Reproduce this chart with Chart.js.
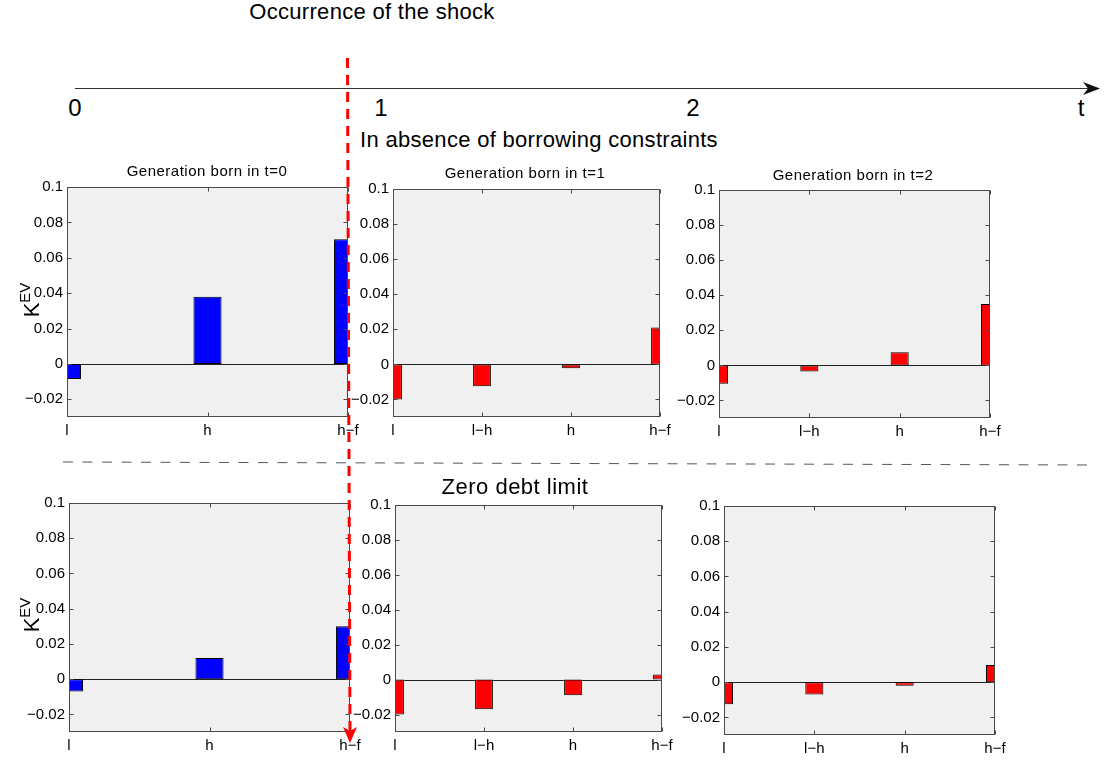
<!DOCTYPE html>
<html>
<head>
<meta charset="utf-8">
<script src="https://cdn.jsdelivr.net/npm/chart.js@4/dist/chart.umd.min.js"></script>
<style>
  html, body { margin: 0; padding: 0; background: #fff; }
  body { width: 1108px; height: 760px; position: relative; overflow: hidden;
         font-family: "Liberation Sans", Arial, Helvetica, sans-serif; color: #000; }
  .panel { position: absolute; }
  .txt { position: absolute; transform: translate(-50%, -50%); white-space: nowrap; line-height: 1; }
  .ylab { position: absolute; transform: translate(-50%, -50%) rotate(-90deg); white-space: nowrap;
          font-size: 22px; line-height: 1; }
  .ylab sup { font-size: 15px; vertical-align: 0; position: relative; top: -9px; }
  svg.overlay { position: absolute; left: 0; top: 0; z-index: 5; pointer-events: none; }
</style>
</head>
<body>
<script>
// ---------------- data ----------------
const categoriesT0 = ['l', 'h', 'h\u2212f'];
const categoriesT12 = ['l', 'l\u2212h', 'h', 'h\u2212f'];

// In absence of borrowing constraints
const genT0NoConstraint = [-0.0085, 0.038, 0.0705];
const genT1NoConstraint = [-0.020, -0.0125, -0.0022, 0.021];
const genT2NoConstraint = [-0.0105, -0.0035, 0.0075, 0.035];

// Zero debt limit
const genT0ZeroDebt = [-0.007, 0.012, 0.030];
const genT1ZeroDebt = [-0.020, -0.017, -0.009, 0.003];
const genT2ZeroDebt = [-0.0125, -0.007, -0.002, 0.0098];

const yTickValues = [-0.02, 0, 0.02, 0.04, 0.06, 0.08, 0.1];
const yMin = -0.03, yMax = 0.1;

const panelTitles = ['Generation born in t=0', 'Generation born in t=1', 'Generation born in t=2'];
const timelineLabels = ['0', '1', '2', 't'];
const headerText = 'Occurrence of the shock';
const rowLabels = ['In absence of borrowing constraints', 'Zero debt limit'];

// ---------------- layout ----------------
const FONT = '"Liberation Sans", Arial, Helvetica, sans-serif';
const YW = 60, PR = 20, PT = 12, XH = 28;

const panels = [
  { cats: categoriesT0,  vals: genT0NoConstraint, color: '#0000ff', rect: [67, 186, 281, 231] },
  { cats: categoriesT12, vals: genT1NoConstraint, color: '#ff0000', rect: [393, 188, 267, 229] },
  { cats: categoriesT12, vals: genT2NoConstraint, color: '#ff0000', rect: [719, 189, 271, 229] },
  { cats: categoriesT0,  vals: genT0ZeroDebt,     color: '#0000ff', rect: [69, 502, 281, 230] },
  { cats: categoriesT12, vals: genT1ZeroDebt,     color: '#ff0000', rect: [395, 504, 267, 228] },
  { cats: categoriesT12, vals: genT2ZeroDebt,     color: '#ff0000', rect: [724, 505, 271, 230] }
];

const framePlugin = {
  id: 'matlabFrame',
  beforeDraw(chart) {
    const { ctx, chartArea: a } = chart;
    ctx.save();
    ctx.fillStyle = '#f0f0f0';
    ctx.fillRect(a.left, a.top, a.right - a.left, a.bottom - a.top);
    ctx.restore();
  },
  beforeDatasetsDraw(chart) {
    const { ctx, chartArea: a } = chart;
    const y0 = Math.round(chart.scales.y.getPixelForValue(0)) + 0.5;
    ctx.save();
    ctx.strokeStyle = '#222';
    ctx.lineWidth = 1;
    ctx.beginPath();
    ctx.moveTo(a.left, y0);
    ctx.lineTo(a.right, y0);
    ctx.stroke();
    ctx.restore();
  },
  afterDatasetsDraw(chart) {
    const { ctx, chartArea: a } = chart;
    const xs = chart.scales.x, ys = chart.scales.y;
    const L = Math.round(a.left) + 0.5, R = Math.round(a.right) - 0.5;
    const T = Math.round(a.top) + 0.5, B = Math.round(a.bottom) - 0.5;
    const tl = 4;
    ctx.save();
    ctx.strokeStyle = '#4a4a4a';
    ctx.lineWidth = 1;
    ctx.strokeRect(L, T, R - L, B - T);
    ctx.beginPath();
    xs.ticks.forEach((t, i) => {
      const x = Math.round(xs.getPixelForTick(i)) + 0.5;
      ctx.moveTo(x, B); ctx.lineTo(x, B - tl);
      ctx.moveTo(x, T); ctx.lineTo(x, T + tl);
    });
    ys.ticks.forEach(t => {
      const y = Math.round(ys.getPixelForValue(t.value)) + 0.5;
      ctx.moveTo(L, y); ctx.lineTo(L + tl, y);
      ctx.moveTo(R, y); ctx.lineTo(R - tl, y);
    });
    ctx.stroke();
    ctx.restore();
  }
};

function fmtY(v) {
  if (v === 0) return '0';
  return (v < 0 ? '\u2212' : '') + String(Math.abs(v));
}

panels.forEach(p => {
  const [left, top, w, h] = p.rect;
  const div = document.createElement('div');
  div.className = 'panel';
  const cw = w + YW + PR, chh = h + PT + XH;
  div.style.left = (left - YW) + 'px';
  div.style.top = (top - PT) + 'px';
  div.style.width = cw + 'px';
  div.style.height = chh + 'px';
  const cv = document.createElement('canvas');
  cv.width = cw; cv.height = chh;
  cv.style.width = cw + 'px'; cv.style.height = chh + 'px';
  div.appendChild(cv);
  document.body.appendChild(div);

  new Chart(cv.getContext('2d'), {
    type: 'bar',
    data: {
      labels: p.cats,
      datasets: [{
        data: p.vals,
        backgroundColor: p.color,
        borderColor: '#000',
        borderWidth: 1,
        borderSkipped: false,
        barPercentage: 0.2,
        categoryPercentage: 1,
        clip: 0
      }]
    },
    options: {
      responsive: false,
      animation: false,
      events: [],
      layout: { padding: { top: PT, right: PR, left: 0, bottom: 0 } },
      plugins: { legend: { display: false }, tooltip: { enabled: false }, title: { display: false } },
      scales: {
        x: {
          type: 'category',
          offset: false,
          grid: { display: false, drawTicks: false, offset: false },
          border: { display: false },
          ticks: { color: '#000', font: { family: FONT, size: 15 }, padding: 5, maxRotation: 0, autoSkip: false },
          afterFit(s) { s.height = XH; }
        },
        y: {
          type: 'linear',
          min: yMin, max: yMax,
          grid: { display: false, drawTicks: false },
          border: { display: false },
          ticks: { color: '#000', font: { family: FONT, size: 15 }, padding: 4, callback: v => fmtY(v) },
          afterBuildTicks(s) { s.ticks = yTickValues.map(v => ({ value: v })); },
          afterFit(s) { s.width = YW; }
        }
      }
    },
    plugins: [framePlugin]
  });
});

// ---------------- texts ----------------
function addText(str, x, y, size, spacing) {
  const d = document.createElement('div');
  d.className = 'txt';
  d.textContent = str;
  d.style.left = x + 'px';
  d.style.top = y + 'px';
  d.style.fontSize = size + 'px';
  if (spacing) d.style.letterSpacing = spacing + 'px';
  document.body.appendChild(d);
}
addText(headerText, 372, 12, 22, 0.3);
addText(timelineLabels[0], 75, 108, 24);
addText(timelineLabels[1], 381, 108, 24);
addText(timelineLabels[2], 693, 108, 24);
addText(timelineLabels[3], 1081, 108, 24);
addText(rowLabels[0], 539, 140, 22, 0.3);
addText(rowLabels[1], 515, 487, 22, 0.5);
addText(panelTitles[0], 207, 170, 15, 0.5);
addText(panelTitles[1], 525, 172, 15, 0.5);
addText(panelTitles[2], 853, 174, 15, 0.5);

function addYLabel(x, y) {
  const d = document.createElement('div');
  d.className = 'ylab';
  d.innerHTML = 'K<sup>EV</sup>';
  d.style.left = x + 'px';
  d.style.top = y + 'px';
  document.body.appendChild(d);
}
addYLabel(32, 300);
addYLabel(32, 615);

// ---------------- decorations ----------------
const NS = 'http://www.w3.org/2000/svg';
const svg = document.createElementNS(NS, 'svg');
svg.setAttribute('class', 'overlay');
svg.setAttribute('width', '1108');
svg.setAttribute('height', '760');
function el(name, attrs) {
  const e = document.createElementNS(NS, name);
  for (const k in attrs) e.setAttribute(k, attrs[k]);
  svg.appendChild(e);
  return e;
}
// timeline
el('line', { x1: 75, y1: 88.5, x2: 1090, y2: 88.5, stroke: '#333', 'stroke-width': 1.2 });
el('polygon', { points: '1100,88.5 1083,82 1088,88.5 1083,95', fill: '#111' });
// separator
el('line', { x1: 63, y1: 462, x2: 1092, y2: 465, stroke: '#555', 'stroke-width': 1, 'stroke-dasharray': '10 9.5' });
// shock line
el('line', { x1: 347.5, y1: 58, x2: 350, y2: 730, stroke: '#ff0000', 'stroke-width': 3, 'stroke-dasharray': '10 7' });
el('polygon', { points: '350,743 343,727 350,731 357,727', fill: '#ff0000' });
document.body.appendChild(svg);
</script>
</body>
</html>
